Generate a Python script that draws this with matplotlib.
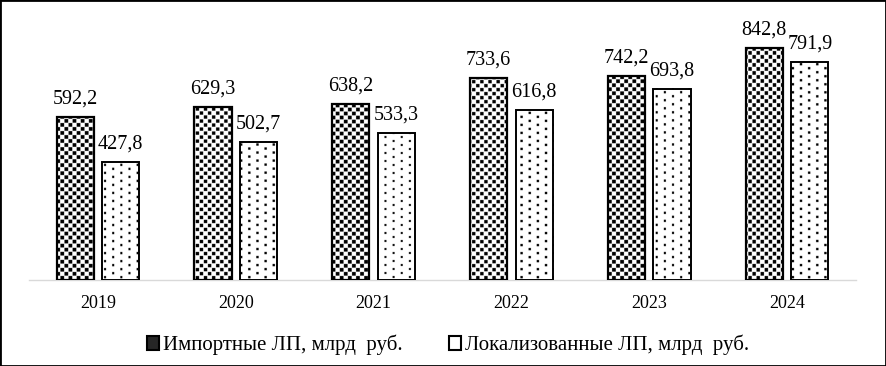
import numpy as np
import matplotlib.pyplot as plt
from matplotlib.patches import Rectangle, Patch

years = ["2019", "2020", "2021", "2022", "2023", "2024"]
imported = [592.2, 629.3, 638.2, 733.6, 742.2, 842.8]
localized = [427.8, 502.7, 533.3, 616.8, 693.8, 791.9]
imported_label = "Импортные ЛП, млрд  руб."
localized_label = "Локализованные ЛП, млрд  руб."

plt.rcParams['font.family'] = ['Liberation Serif', 'DejaVu Serif']

W, H = 886, 366
fig = plt.figure(figsize=(W / 100, H / 100), dpi=100)
ax = fig.add_axes([29 / W, 86 / H, 827 / W, 247.8 / H])

x = np.arange(len(years))
w = 0.27
off = 0.165

ax.set_xlim(-0.5, len(years) - 0.5)
ax.set_ylim(0, 900)

b1 = ax.bar(x - off, imported, w, fill=False, edgecolor="black", linewidth=1.6, zorder=3)
b2 = ax.bar(x + off, localized, w, fill=False, edgecolor="black", linewidth=1.4, zorder=3)


def texture(bar, kind):
    # pixel-based fill pattern like the Excel pattern fills
    x0, y0 = bar.get_x(), bar.get_y()
    x1, y1 = x0 + bar.get_width(), y0 + bar.get_height()
    (px0, py0), (px1, py1) = ax.transData.transform([(x0, y0), (x1, y1)])
    s = 3
    nx = max(1, int(round((px1 - px0) * s)))
    ny = max(1, int(round((py1 - py0) * s)))
    X = px0 + (np.arange(nx) + 0.5) / s
    Y = (H - py1) + (np.arange(ny) + 0.5) / s
    XX, YY = np.meshgrid(X, Y)
    row = np.floor(YY / 4)
    if kind == "imp":
        shift = (row % 2) * 4
        black = ((YY % 4) < 3.5) & (((XX + shift) % 8) < 3.5)
    else:
        shift = (row % 2) * 8
        black = ((YY % 4) < 2.2) & (((XX + shift) % 16) < 2.2)
    img = np.where(black, 0.0, 1.0)
    ax.imshow(img, extent=(x0, x1, y0, y1), origin="upper", cmap="gray",
              vmin=0, vmax=1, aspect="auto", interpolation="antialiased", zorder=2)


for b in b1:
    texture(b, "imp")
for b in b2:
    texture(b, "loc")

ax.set_xlim(-0.5, len(years) - 0.5)
ax.set_ylim(0, 900)
ax.set_aspect("auto")

for xi, v in zip(x, imported):
    ax.annotate(f"{v:.1f}".replace(".", ","), (xi - off, v), xytext=(0, 6),
                textcoords="offset points", ha="center", va="bottom", fontsize=14.5)
for xi, v in zip(x, localized):
    ax.annotate(f"{v:.1f}".replace(".", ","), (xi + off, v), xytext=(0, 6),
                textcoords="offset points", ha="center", va="bottom", fontsize=14.5)

ax.set_xticks(x)
ax.set_xticklabels(years, fontsize=13)
ax.tick_params(axis="x", length=0, pad=11)
ax.set_yticks([])
for s in ["top", "right", "left"]:
    ax.spines[s].set_visible(False)
ax.spines["bottom"].set_color("#d9d9d9")
ax.spines["bottom"].set_linewidth(1.0)

handles = [Patch(facecolor="#262626", edgecolor="black", linewidth=1.5),
           Patch(facecolor="white", edgecolor="black", linewidth=1.5)]
fig.legend(handles=handles, labels=[imported_label, localized_label], loc="center",
           bbox_to_anchor=(448 / W, 1 - 345 / H), ncol=2, frameon=False, fontsize=15,
           handlelength=0.6, handleheight=0.6, handletextpad=0.2, columnspacing=2.2)

fig.patches.append(Rectangle((0, 0), 1, 1, transform=fig.transFigure,
                             fill=False, edgecolor="black", linewidth=2))

fig.savefig("out.png", dpi=100)
